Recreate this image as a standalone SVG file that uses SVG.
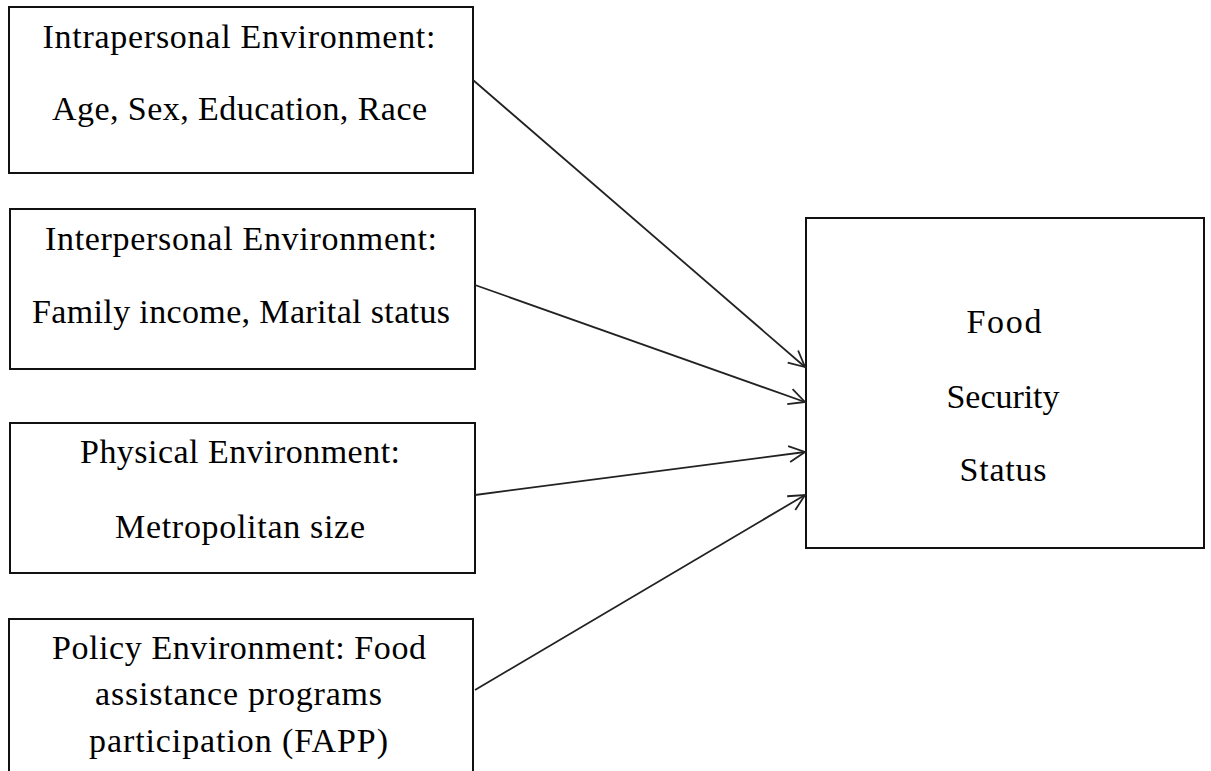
<svg xmlns="http://www.w3.org/2000/svg" width="1211" height="771" viewBox="0 0 1211 771">
<style>
.box{fill:#fff;stroke:#111;stroke-width:2}
.t{font-family:"Liberation Serif","Times New Roman",serif;font-size:34px;fill:#000;text-anchor:middle}
.c{fill:none;stroke:#222;stroke-width:1.8}
</style>
<defs>
<marker id="ah" viewBox="0 0 20 20" refX="18" refY="10" markerWidth="20" markerHeight="20" markerUnits="userSpaceOnUse" orient="auto">
<path d="M2,2 L18,10 L2,18" fill="none" stroke="#222" stroke-width="1.8"/>
</marker>
</defs>
<rect width="1211" height="771" fill="#fff"/>
<g id="n1">
<rect class="box" x="9" y="7" width="464" height="166"/>
<text class="t" x="239" y="48" textLength="393" lengthAdjust="spacing">Intrapersonal Environment:</text>
<text class="t" x="239.5" y="120" textLength="375" lengthAdjust="spacing">Age, Sex, Education, Race</text>
</g>
<g id="n2">
<rect class="box" x="10" y="209" width="465" height="160"/>
<text class="t" x="241" y="250" textLength="392" lengthAdjust="spacing">Interpersonal Environment:</text>
<text class="t" x="241" y="323" textLength="418" lengthAdjust="spacing">Family income, Marital status</text>
</g>
<g id="n3">
<rect class="box" x="10" y="423" width="465" height="150"/>
<text class="t" x="240" y="463" textLength="320" lengthAdjust="spacing">Physical Environment:</text>
<text class="t" x="240" y="538" textLength="250" lengthAdjust="spacing">Metropolitan size</text>
</g>
<g id="n4">
<rect class="box" x="9" y="619" width="464" height="170"/>
<text class="t" x="239" y="659" textLength="374" lengthAdjust="spacing">Policy Environment: Food</text>
<text class="t" x="238.5" y="705" textLength="287" lengthAdjust="spacing">assistance programs</text>
<text class="t" x="238.5" y="752" textLength="299" lengthAdjust="spacing">participation (FAPP)</text>
</g>
<g id="n5">
<rect class="box" x="806" y="218" width="398" height="330"/>
<text class="t" x="1004" y="333" textLength="75" lengthAdjust="spacing">Food</text>
<text class="t" x="1003" y="408" textLength="113" lengthAdjust="spacing">Security</text>
<text class="t" x="1003" y="481" textLength="87" lengthAdjust="spacing">Status</text>
</g>
<g id="connectors">
<line class="c" x1="473" y1="80" x2="805" y2="367" marker-end="url(#ah)"/>
<line class="c" x1="475" y1="285" x2="805" y2="402" marker-end="url(#ah)"/>
<line class="c" x1="475" y1="495" x2="805" y2="452" marker-end="url(#ah)"/>
<line class="c" x1="475" y1="690" x2="805" y2="495" marker-end="url(#ah)"/>
</g>
</svg>
